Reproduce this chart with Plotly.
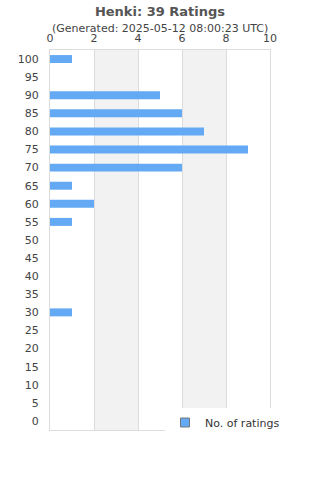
import plotly.graph_objects as go

categories = [str(v) for v in range(0, 105, 5)]
rated = ["100", "90", "85", "80", "75", "70", "65", "60", "55", "30"]
counts = [1, 5, 6, 7, 9, 6, 1, 2, 1, 1]
x_ticks = [0, 2, 4, 6, 8, 10]
bands = [(2, 4), (6, 8)]

BLUE = "#63a9f4"
GRID = "#dcdcdc"
TXT = "#444444"

fig = go.Figure()
fig.add_trace(go.Bar(
    y=rated, x=counts, orientation="h", width=0.44,
    marker=dict(color=BLUE, line=dict(width=0)),
    showlegend=False, name="No. of ratings",
))
fig.add_trace(go.Scatter(
    x=[None], y=[None], mode="markers", name="No. of ratings",
    marker=dict(symbol="square", size=9, color=BLUE, line=dict(color="#777777", width=1)),
))
for a, b in bands:
    fig.add_shape(type="rect", xref="x", yref="paper", x0=a, x1=b, y0=0, y1=1,
                  fillcolor="#f2f2f2", line=dict(width=0), layer="below")

fig.update_layout(
    width=320, height=480,
    margin=dict(l=50, r=50, t=50, b=50),
    paper_bgcolor="white", plot_bgcolor="white",
    font=dict(family="DejaVu Sans", color=TXT, size=11),
    title=dict(text="<b>Henki: 39 Ratings</b>", x=0.5, xref="container",
               y=1 - 11 / 480, yref="container", yanchor="middle",
               font=dict(size=13, color="#555555")),
    xaxis=dict(side="top", range=[0, 10], tickvals=x_ticks, showgrid=True,
               gridcolor=GRID, gridwidth=1, showline=True, linecolor=GRID,
               mirror=True, zeroline=False, ticks="outside", ticklen=3,
               tickcolor="rgba(0,0,0,0)", tickfont=dict(size=11, color=TXT),
               fixedrange=True),
    yaxis=dict(type="category", categoryorder="array", categoryarray=categories,
               range=[-0.5, 20.5], showgrid=False, showline=True, linecolor=GRID,
               mirror=True, ticks="outside", ticklen=8, tickcolor="rgba(0,0,0,0)",
               tickfont=dict(size=11, color=TXT), fixedrange=True),
    legend=dict(x=(165 - 50) / 220, y=(430 - 408) / 380, xanchor="left", yanchor="top",
                bgcolor="white", font=dict(size=11, color="#333333"),
                itemwidth=30),
    annotations=[dict(text="(Generated: 2025-05-12 08:00:23 UTC)", xref="paper", yref="paper",
                      x=0.5, y=(430 - 29) / 380, xanchor="center", yanchor="middle",
                      showarrow=False, font=dict(size=11, color=TXT))],
)

fig.write_html("out.html")
